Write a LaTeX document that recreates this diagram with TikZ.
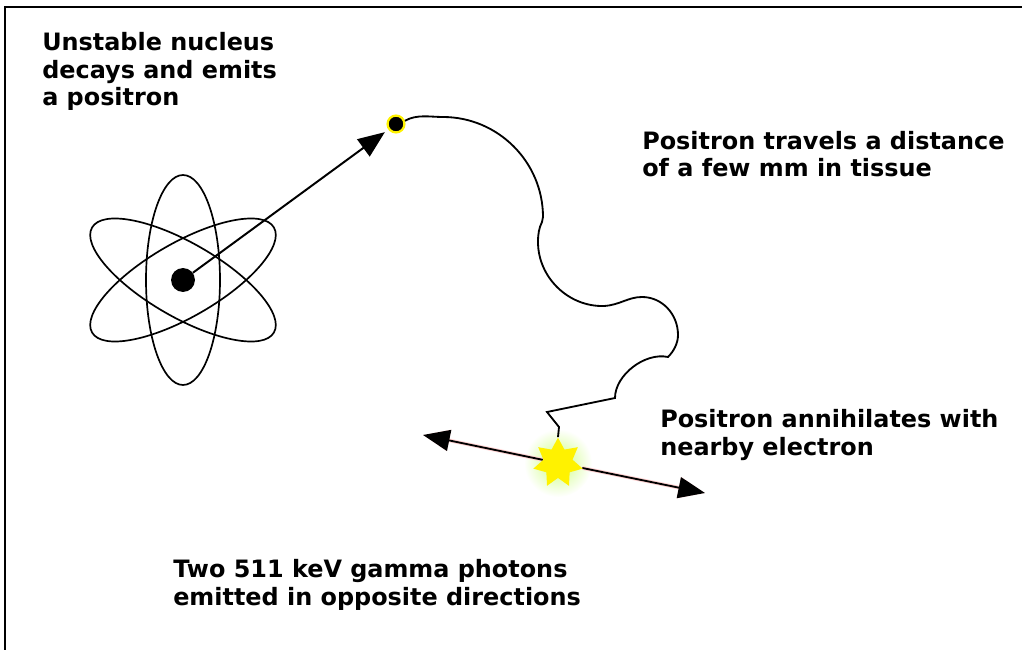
\documentclass[tikz,border=0pt]{standalone}
\usepackage{fontspec}
\setmainfont{DejaVu Sans}
\usetikzlibrary{arrows.meta,shapes.geometric,backgrounds}

\tikzset{
  note/.style={font=\fontsize{17}{19.8}\selectfont\bfseries,align=left,anchor=base west,inner sep=0pt},
  orbit/.style={line width=1.2pt},
  bigtip/.style={-{Triangle[length=19pt,width=15pt]}},
  gamma/.style={bigtip,line width=1.3pt,preaction={draw=pink!70,line width=2.6pt}},
}

\begin{document}
\begin{tikzpicture}[x=0.025cm,y=-0.025cm]
          \useasboundingbox (0,0) rectangle (1022,650);
          \draw[line width=1.4pt] (5,650) -- (5,7) -- (1022,7);

          % atom
          \draw[orbit] (183,280) ellipse (37 and 105);
          \draw[orbit,rotate around={30:(183,280)}] (183,280) ellipse (105 and 37);
          \draw[orbit,rotate around={-30:(183,280)}] (183,280) ellipse (105 and 37);
          \node[circle,fill=black,minimum size=17pt,inner sep=0pt] (nucleus) at (183,280) {};

          % positron and its track
          \node[circle,fill=black,draw=yellow,line width=1.6pt,minimum size=12pt,inner sep=0pt] (positron) at (396,124) {};
          \draw[bigtip,line width=1.4pt,shorten >=3pt] (nucleus) -- (positron);

          \node[star,star points=7,star point ratio=1.7,fill=yellow,minimum size=36pt,inner sep=0pt] (ann) at (558,463) {};
          \draw[line width=1.3pt] (positron.20) .. controls (417,114) and (430,117) .. (443,117)
                .. controls (498,117) and (543,162) .. (543,217) -- (542,222)
                .. controls (539,228) and (538,234) .. (538,242)
                .. controls (538,277) and (568,307) .. (604,306)
                .. controls (620,305) and (628,297) .. (642,297)
                .. controls (662,297) and (678,314) .. (678,335)
                .. controls (678,343) and (674,351) .. (668,357)
                .. controls (645,352) and (615,375) .. (615,398)
                -- (547,412) -- (559,427) -- (ann.north);

          % the two gamma photons
          \coordinate (gl) at (423,435);
          \coordinate (gr) at (705,493);
          \begin{scope}[on background layer]
            \shade[inner color=yellow!60!green!50,outer color=white] (ann) circle (34);
            \draw[gamma] (ann) -- (gl);
            \draw[gamma] (ann) -- (gr);
          \end{scope}

          % the base of each note is its last line
          \node[note] (decay) at (42,106) {Unstable nucleus\\decays and emits\\a positron};
          \node[note] (travel) at (642,177) {Positron travels a distance\\of a few mm in tissue};
          \node[note] (annih) at (660,455) {Positron annihilates with\\nearby electron};
          \node[note] (photons) at (173,605) {Two 511 keV gamma photons\\emitted in opposite directions};
        \end{tikzpicture}
\end{document}
